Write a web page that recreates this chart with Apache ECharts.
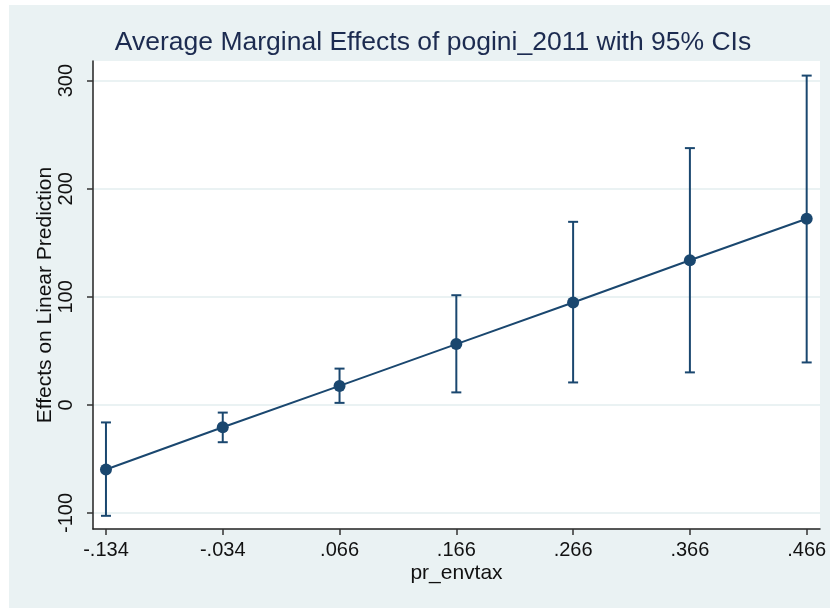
<!DOCTYPE html>
<html>
<head>
<meta charset="utf-8">
<script src="https://cdn.jsdelivr.net/npm/echarts@6/dist/echarts.min.js"></script>
<style>
html,body{margin:0;padding:0;background:#ffffff;}
#chart{width:830px;height:608px;}
</style>
</head>
<body>
<div id="chart"></div>
<script>
const xValues = [-0.134, -0.034, 0.066, 0.166, 0.266, 0.366, 0.466];
const effects = [-59.7, -20.7, 17.6, 56.3, 94.8, 133.8, 172.2];
const ciLower = [-102.6, -34.5, 1.9, 11.6, 20.8, 30.1, 39.3];
const ciUpper = [-16.2, -7.1, 33.6, 101.5, 169.4, 237.6, 304.7];
const xTickValues = [-0.134, -0.034, 0.066, 0.166, 0.266, 0.366, 0.466];
const yTickValues = [-100, 0, 100, 200, 300];
const titleText = 'Average Marginal Effects of pogini_2011 with 95% CIs';
const xAxisTitle = 'pr_envtax';
const yAxisTitle = 'Effects on Linear Prediction';

const FONT = '"Liberation Sans", Arial, Helvetica, sans-serif';
const NAVY = '#1a476f';
const PANEL = '#eaf2f3';

function fmtX(v) {
  let s = (Math.round(v * 1000) / 1000).toFixed(3);
  s = s.replace(/^(-?)0\./, '$1.');
  return s;
}

const pointData = xValues.map((x, i) => [x, effects[i]]);
const ciData = xValues.map((x, i) => [x, ciLower[i], ciUpper[i]]);

const chart = echarts.init(document.getElementById('chart'), null, {renderer: 'canvas'});
chart.setOption({
  animation: false,
  backgroundColor: '#ffffff',
  graphic: [{
    type: 'rect', z: -100, silent: true,
    shape: {x: 9, y: 5, width: 821, height: 603},
    style: {fill: PANEL}
  }],
  title: {
    text: titleText,
    left: 428, top: 24, textAlign: 'center',
    textStyle: {fontFamily: FONT, fontWeight: 'normal', fontSize: 26.5, color: '#1c2b50'}
  },
  grid: {
    left: 93, right: 10, top: 61, bottom: 79,
    show: true, backgroundColor: '#ffffff', borderWidth: 0,
    containLabel: false, outerBoundsMode: 'none'
  },
  xAxis: {
    type: 'value', min: -0.1451, max: 0.4774,
    name: xAxisTitle, nameLocation: 'middle', nameGap: 34, nameMoveOverlap: false,
    nameTextStyle: {fontFamily: FONT, fontSize: 21, color: '#111'},
    axisLine: {show: true, onZero: false, lineStyle: {color: '#222', width: 1.5}},
    axisTick: {show: true, length: 6, customValues: xTickValues, lineStyle: {color: '#333', width: 1.5}},
    axisLabel: {customValues: xTickValues, formatter: fmtX, margin: 11, fontFamily: FONT, fontSize: 20, color: '#111'},
    splitLine: {show: false}
  },
  yAxis: {
    type: 'value', min: -114.8, max: 318.2,
    name: yAxisTitle, nameLocation: 'middle', nameGap: 37, nameRotate: 90, nameMoveOverlap: false,
    nameTextStyle: {fontFamily: FONT, fontSize: 21, color: '#111'},
    axisLine: {show: true, onZero: false, lineStyle: {color: '#222', width: 1.5}},
    axisTick: {show: true, length: 6, customValues: yTickValues, lineStyle: {color: '#333', width: 1.5}},
    axisLabel: {customValues: yTickValues, rotate: 90, margin: 17, fontFamily: FONT, fontSize: 20, color: '#111'},
    splitLine: {show: true, lineStyle: {color: PANEL, width: 2}}
  },
  series: [
    {
      type: 'custom',
      data: ciData,
      z: 3,
      renderItem: function (params, api) {
        const x = api.value(0);
        const lo = api.coord([x, api.value(1)]);
        const hi = api.coord([x, api.value(2)]);
        const hw = 5;
        const style = {stroke: NAVY, lineWidth: 2, fill: null};
        return {
          type: 'group',
          children: [
            {type: 'line', shape: {x1: lo[0], y1: lo[1], x2: hi[0], y2: hi[1]}, style: style},
            {type: 'line', shape: {x1: lo[0] - hw, y1: lo[1], x2: lo[0] + hw, y2: lo[1]}, style: style},
            {type: 'line', shape: {x1: hi[0] - hw, y1: hi[1], x2: hi[0] + hw, y2: hi[1]}, style: style}
          ]
        };
      }
    },
    {
      type: 'line',
      data: pointData,
      z: 4,
      symbol: 'circle', symbolSize: 12,
      itemStyle: {color: NAVY},
      lineStyle: {color: NAVY, width: 2}
    }
  ]
});
</script>
</body>
</html>
